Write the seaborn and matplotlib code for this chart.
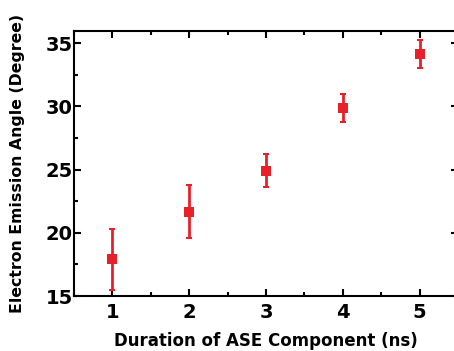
import matplotlib
matplotlib.use("Agg")
import matplotlib.pyplot as plt
import seaborn as sns
import pandas as pd
from matplotlib.ticker import MultipleLocator

# datos
duracion = [1, 2, 3, 4, 5]
angulo = [17.9, 21.65, 24.9, 29.85, 34.15]
error = [2.4, 2.1, 1.3, 1.1, 1.1]

df = pd.DataFrame({'Duracion': duracion, 'Angulo': angulo, 'Error': error})

sns.set_style("ticks")
plt.rcParams['font.family'] = ['DejaVu Sans']
plt.rcParams['font.weight'] = 'bold'
plt.rcParams.update({'text.color': 'black', 'axes.labelcolor': 'black',
                     'xtick.color': 'black', 'ytick.color': 'black'})

rojo = '#e8202a'

fig = plt.figure(figsize=(4.54, 3.51), dpi=100)
# el eje derecho queda justo fuera de la imagen, como en el original
ax = fig.add_axes([74 / 454, 1 - 296 / 351, 384 / 454, 265 / 351])

ax.errorbar(df['Duracion'], df['Angulo'], yerr=df['Error'], fmt='none',
            ecolor=rojo, elinewidth=2, capsize=2.5, capthick=1.5, zorder=2)
sns.scatterplot(data=df, x='Duracion', y='Angulo', marker='s', s=45,
                color=rojo, edgecolor=rojo, linewidth=0, ax=ax, zorder=3)

ax.set_xlim(0.5, 5.5)
ax.set_ylim(15, 35.95)
ax.xaxis.set_major_locator(MultipleLocator(1))
ax.xaxis.set_minor_locator(MultipleLocator(0.5))
ax.yaxis.set_major_locator(MultipleLocator(5))
ax.yaxis.set_minor_locator(MultipleLocator(2.5))

ax.tick_params(which='both', direction='in', top=True, right=True,
               labeltop=False, labelright=False, width=1.5, labelsize=14)
ax.tick_params(axis='x', pad=5)
ax.tick_params(axis='y', pad=1)
ax.tick_params(which='major', length=5)
ax.tick_params(which='minor', length=3)
for s in ax.spines.values():
    s.set_linewidth(1.5)
    s.set_color('black')

ax.set_xlabel('Duration of ASE Component (ns)', fontsize=12, fontweight='bold', labelpad=7)
ax.set_ylabel('Electron Emission Angle (Degree)', fontsize=11.3, fontweight='bold', labelpad=15)

plt.savefig('out.png', dpi=100)
